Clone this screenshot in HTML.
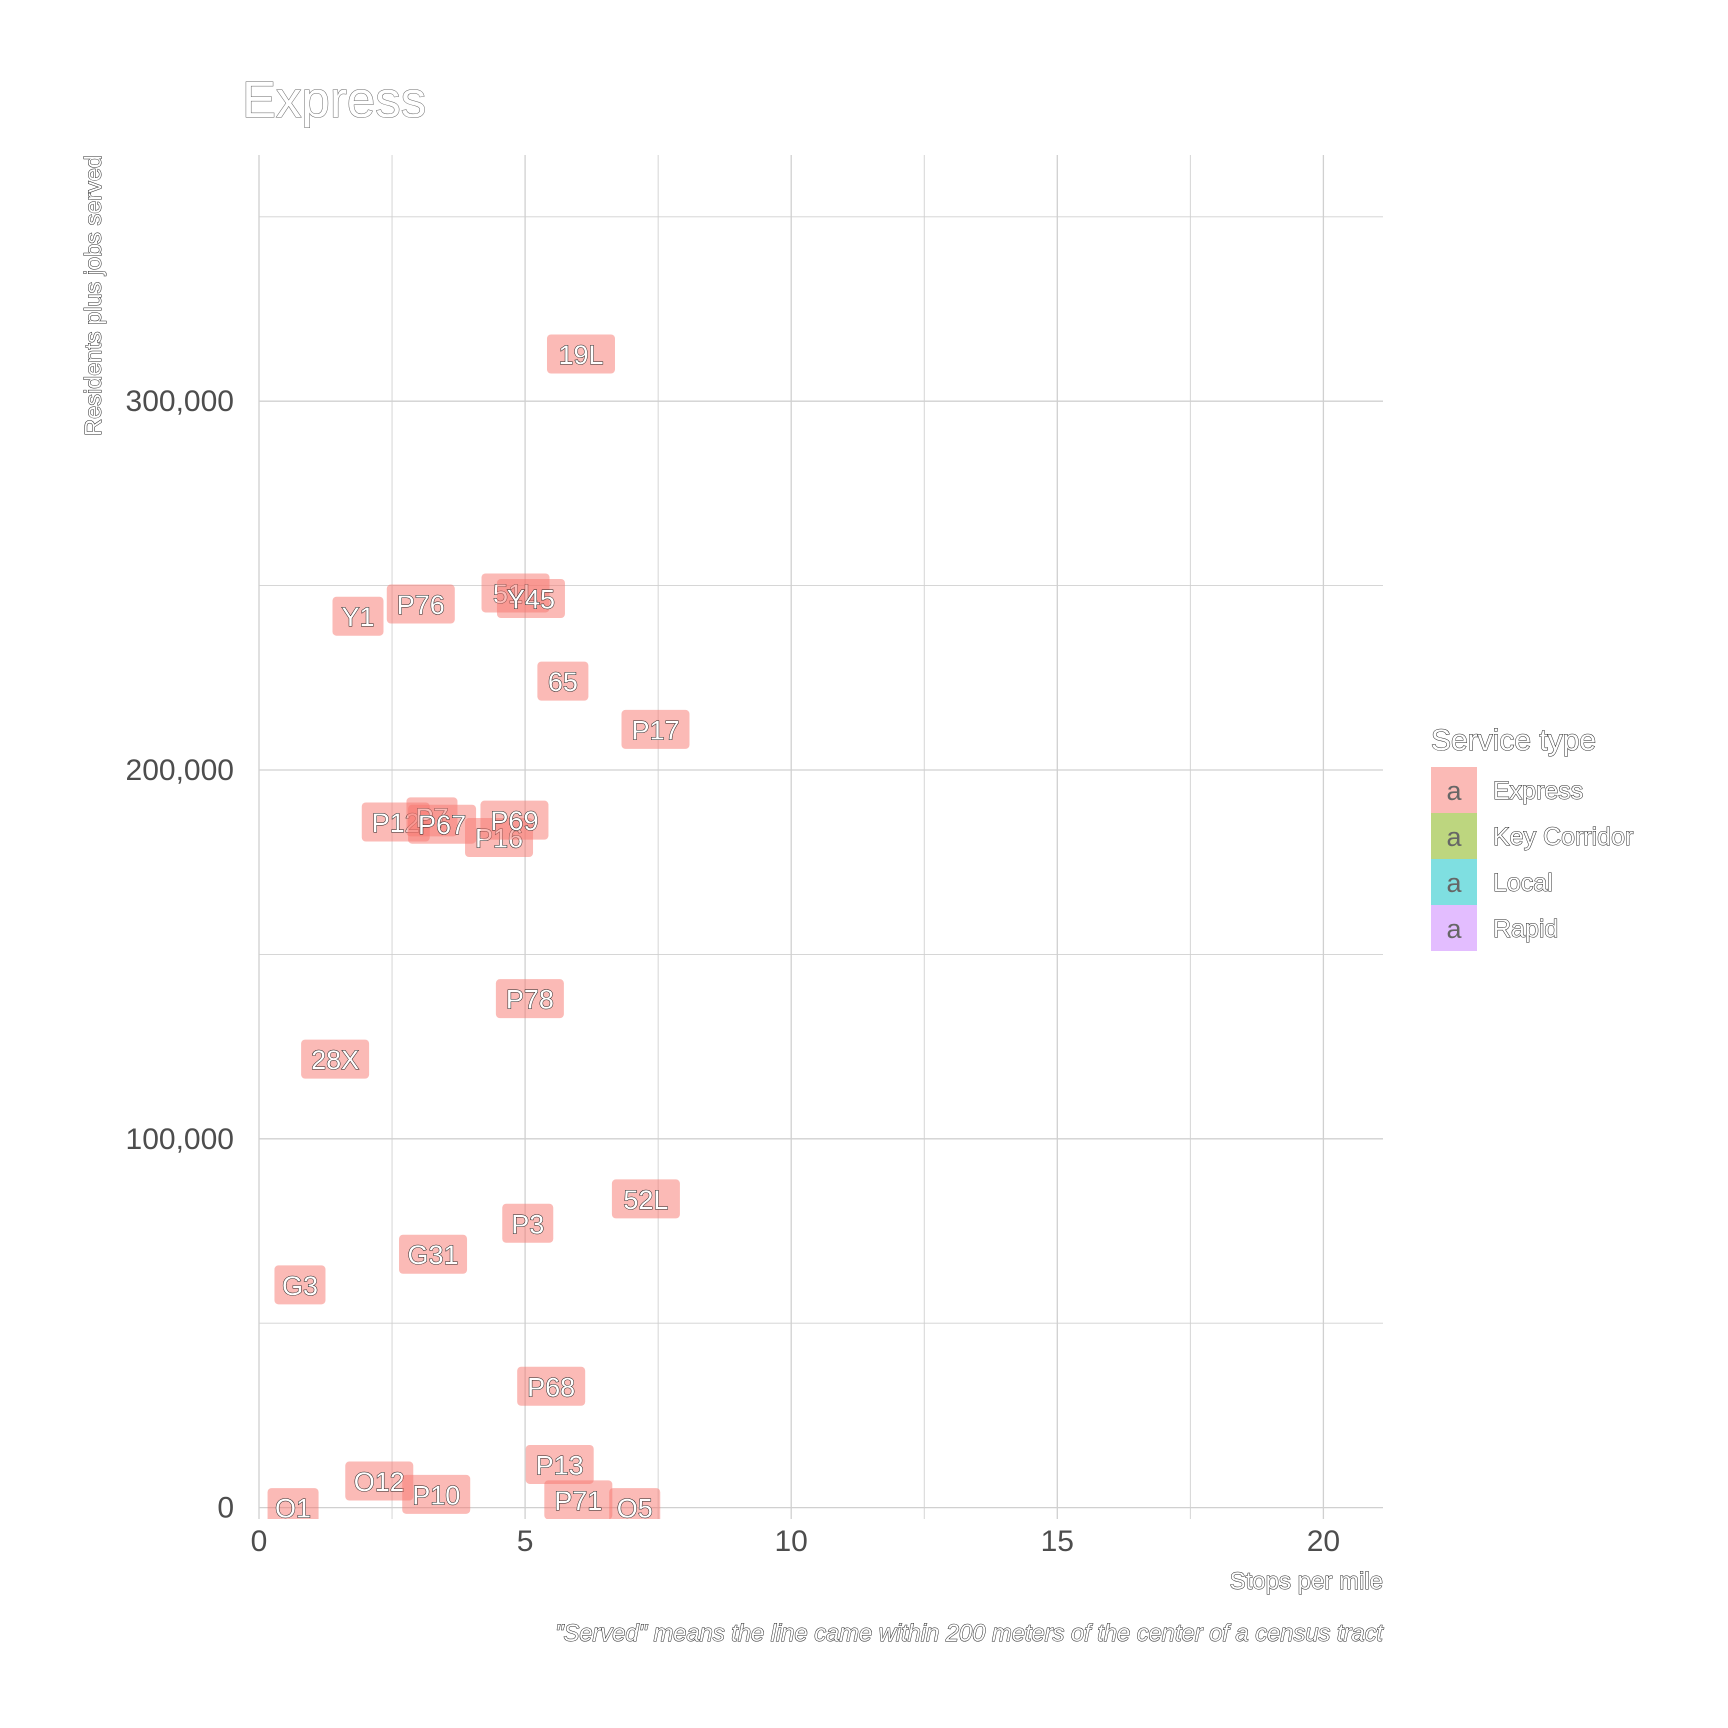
<!DOCTYPE html>
<html><head><meta charset="utf-8"><style>
body{margin:0;background:#fff}
svg{display:block;font-family:"Liberation Sans",sans-serif}
.ol{fill:#fff;stroke:#222;stroke-width:1;paint-order:stroke}
</style></head><body>
<svg id="chart" width="1728" height="1728" viewBox="0 0 1728 1728">
<defs><clipPath id="pc"><rect x="259" y="155" width="1124" height="1364"/></clipPath></defs>
<g id="grid"></g>
<g id="axes"></g>
<g id="marks" clip-path="url(#pc)"></g>
<text x="242" y="117" font-size="51" class="ol" style="stroke:#666;stroke-width:1">Express</text>
<text transform="translate(101,155) rotate(-90)" text-anchor="end" font-size="23.5" class="ol">Residents plus jobs served</text>
<text x="1383" y="1589" text-anchor="end" font-size="24" class="ol">Stops per mile</text>
<text x="1383" y="1641" text-anchor="end" font-size="23.7" font-style="italic" class="ol">"Served" means the line came within 200 meters of the center of a census tract</text>
<g>
<text x="1431" y="750" font-size="30" class="ol">Service type</text>
<g id="legend"></g>
</g>
</svg>
<script>
const routes=["19L","Y1","P76","51L","Y45","65","P17","P12","P7","P67","P16","P69","P78","28X","52L","P3","G31","G3","P68","P13","O12","P10","O1","P71","O5"];
const stops=[6.05,1.86,3.04,4.82,5.11,5.71,7.45,2.57,3.25,3.44,4.51,4.80,5.09,1.43,7.27,5.05,3.27,0.77,5.49,5.65,2.26,3.33,0.64,6.0,7.06];
const served=[312800,241700,245000,248000,246500,224100,211000,185900,187300,185300,181700,186400,138000,121600,83700,77100,68700,60400,32900,11700,7200,3600,0,2100,0];
const xTicks=[0,5,10,15,20];
const yTicks=[0,100000,200000,300000];
const yTickLabels=["0","100,000","200,000","300,000"];
const legendLabels=["Express","Key Corridor","Local","Rapid"];
const legendColors=["#F8766D","#7CAE00","#00BFC4","#C77CFF"];
const NS="http://www.w3.org/2000/svg";
const X=v=>259+v*53.22, Y=v=>1507.6-v*0.003688;
const L=259,R=1383,T=155,B=1519;
function mk(t,a,p){const e=document.createElementNS(NS,t);for(const k in a)e.setAttribute(k,a[k]);p.appendChild(e);return e;}
const grid=document.getElementById('grid'),axes=document.getElementById('axes'),marks=document.getElementById('marks'),leg=document.getElementById('legend');
for(let v=0;v<=21;v+=2.5){const l=mk('line',{x1:X(v),x2:X(v),y1:T,y2:B,stroke:'#d0d0d0','stroke-width':v%5?0.9:1.3},grid);

}
for(let v=0;v<=350000;v+=50000){const l=mk('line',{x1:L,x2:R,y1:Y(v),y2:Y(v),stroke:'#d0d0d0','stroke-width':v%100000?0.9:1.3},grid);

}
xTicks.forEach(v=>{const t=mk('text',{x:X(v),y:1551,'text-anchor':'middle','font-size':30,fill:'#4d4d4d'},axes);t.textContent=v;

});
yTicks.forEach((v,i)=>{const t=mk('text',{x:234,y:Y(v)+10,'text-anchor':'end','font-size':30,fill:'#4d4d4d'},axes);t.textContent=yTickLabels[i];

});
routes.forEach((r,i)=>{const cx=X(stops[i]),cy=Y(served[i]);const w=r.length*17+17,h=39;
const g=mk('g',{},marks);


mk('rect',{x:cx-w/2,y:cy-h/2,width:w,height:h,rx:4,fill:'#F8766D','fill-opacity':0.5},g);
const t=mk('text',{x:cx,y:cy+10,'text-anchor':'middle','font-size':27,class:'ol'},g);t.textContent=r;});
legendLabels.forEach((s,i)=>{const y=767+i*46;
const g=mk('g',{},leg);


mk('rect',{x:1431,y:y,width:46,height:46,fill:legendColors[i],'fill-opacity':0.5},g);
const a=mk('text',{x:1454,y:y+33,'text-anchor':'middle','font-size':27,fill:'#666'},g);a.textContent='a';
const t=mk('text',{x:1493,y:y+32,'font-size':25,class:'ol'},g);t.textContent=s;});
</script>
</body></html>
